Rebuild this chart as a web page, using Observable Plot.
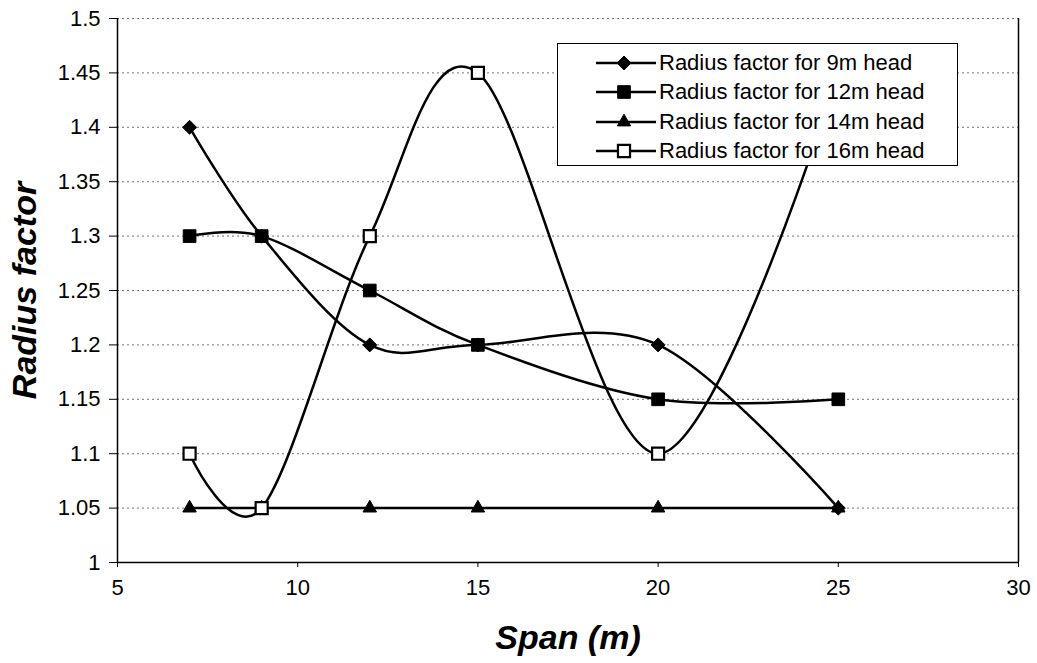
<!DOCTYPE html>
<html>
<head>
<meta charset="utf-8">
<script src="https://cdn.jsdelivr.net/npm/d3@7"></script>
<script src="https://cdn.jsdelivr.net/npm/@observablehq/plot@0.6"></script>
<style>
  html, body { margin: 0; padding: 0; background: #fff; }
  body { font-family: "Liberation Sans", Arial, sans-serif; }
  #wrap { position: relative; width: 1037px; height: 663px; }
  #legend {
    position: absolute; left: 557px; top: 43px; width: 401px; height: 123px;
    background: #fff; border: 1.5px solid #000; box-sizing: border-box;
    padding: 4px 0 0 36px;
  }
  .lrow { display: flex; align-items: center; height: 29.5px; }
  .lrow svg { flex: none; }
  .lrow span { font-size: 22px; color: #000; margin-left: 1px; white-space: nowrap; }
  g[aria-label="y-axis label"] text, g[aria-label="x-axis label"] text {
    font-size: 34px; font-weight: bold; font-style: italic;
  }
</style>
</head>
<body>
<div id="wrap"><div id="chart"></div><div id="legend"></div></div>
<script>
// ---- data ----
const spans = [7, 9, 12, 15, 20, 25];
const head9  = [1.40, 1.30, 1.20, 1.20, 1.20, 1.05];
const head12 = [1.30, 1.30, 1.25, 1.20, 1.15, 1.15];
const head14 = [1.05, 1.05, 1.05, 1.05, 1.05, 1.05];
const head16 = [1.10, 1.05, 1.30, 1.45, 1.10, 1.45];
const seriesNames = [
  "Radius factor for 9m head",
  "Radius factor for 12m head",
  "Radius factor for 14m head",
  "Radius factor for 16m head"
];
const seriesValues = [head9, head12, head14, head16];
const xTicks = [5, 10, 15, 20, 25, 30];
const yTicks = [1, 1.05, 1.1, 1.15, 1.2, 1.25, 1.3, 1.35, 1.4, 1.45, 1.5];
const gridTicks = [1.05, 1.1, 1.15, 1.2, 1.25, 1.3, 1.35, 1.4, 1.45, 1.5];

// ---- styles per series ----
const symbols = ["diamond2", "square", "triangle", "square"];
const fills = ["#000", "#000", "#000", "#fff"];
const radii = [6.3, 4.2, 5.0, 4.0];

const rows = [];
seriesNames.forEach((name, i) => {
  spans.forEach((s, j) => rows.push({series: name, idx: i, span: s, value: seriesValues[i][j]}));
});

const marks = [
  Plot.ruleY(gridTicks, {stroke: "#000", strokeOpacity: 0.55, strokeDasharray: "2,3", strokeWidth: 1}),
  Plot.ruleX([30], {stroke: "#000", strokeWidth: 1.5}),
  Plot.ruleX([5], {stroke: "#000", strokeWidth: 1.5}),
  Plot.ruleY([1], {stroke: "#000", strokeWidth: 1.5}),
  Plot.axisX({ticks: xTicks, tickSize: 5, tickPadding: 12, label: "Span (m)", labelAnchor: "center", labelArrow: "none", labelOffset: 86}),
  Plot.axisY({ticks: yTicks, tickSize: 8, tickPadding: 9, tickFormat: d => String(+d.toFixed(2)), label: "Radius factor", labelAnchor: "center", labelArrow: "none", labelOffset: 106})
];
seriesNames.forEach((name, i) => {
  const d = rows.filter(r => r.idx === i);
  marks.push(Plot.line(d, {x: "span", y: "value", curve: "cardinal", stroke: "#000", strokeWidth: 2.5}));
});
seriesNames.forEach((name, i) => {
  const d = rows.filter(r => r.idx === i);
  marks.push(Plot.dot(d, {x: "span", y: "value", symbol: () => symbols[i], r: radii[i] * (symbols[i] === "square" ? 1.7 : 1),
    fill: fills[i], stroke: "#000", strokeWidth: i === 3 ? 2.2 : 1}));
});

const chart = Plot.plot({
  width: 1037, height: 663,
  marginLeft: 117, marginRight: 19, marginTop: 18, marginBottom: 101,
  style: {fontFamily: "Liberation Sans, Arial, sans-serif", fontSize: "22px", color: "#000", background: "#fff"},
  x: {domain: [5, 30]},
  y: {domain: [1, 1.5]},
  marks
});
document.getElementById("chart").appendChild(chart);

// ---- legend ----
const legend = d3.select("#legend");
seriesNames.forEach((name, i) => {
  const row = legend.append("div").attr("class", "lrow");
  const svg = row.append("svg").attr("width", 64).attr("height", 28);
  svg.append("line").attr("x1", 2).attr("x2", 62).attr("y1", 14).attr("y2", 14).attr("stroke", "#000").attr("stroke-width", 2.5);
  const r = radii[i] * (symbols[i] === "square" ? 1.7 : 1);
  const symType = {diamond2: d3.symbolDiamond2, square: d3.symbolSquare, triangle: d3.symbolTriangle}[symbols[i]];
  svg.append("path").attr("transform", "translate(30,14)")
    .attr("d", d3.symbol(symType, r * r * Math.PI)())
    .attr("fill", fills[i]).attr("stroke", "#000").attr("stroke-width", i === 3 ? 2.2 : 1);
  row.append("span").text(name);
});
</script>
</body>
</html>
